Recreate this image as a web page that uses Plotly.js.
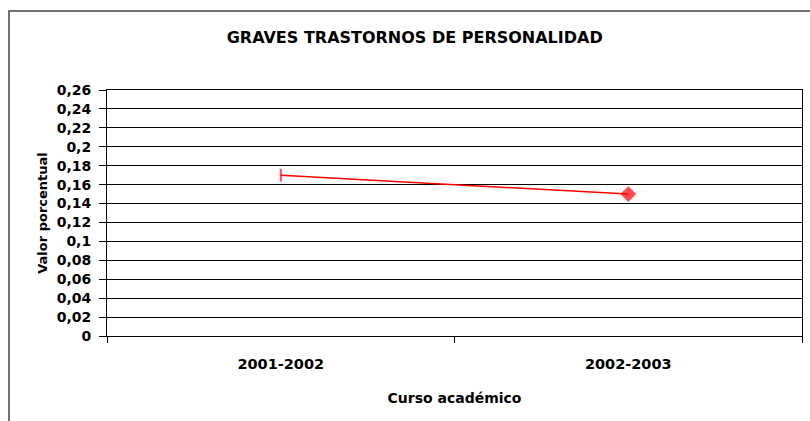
<!DOCTYPE html>
<html>
<head>
<meta charset="utf-8">
<script src="https://cdn.plot.ly/plotly-3.0.1.min.js"></script>
<style>html,body{margin:0;padding:0;background:#fff;}#chart{width:810px;height:421px;}</style>
</head>
<body>
<div id="chart"></div>
<script>
var categories = ['2001-2002', '2002-2003'];
var values = [0.17, 0.15];
var markerSymbols = ['line-ns', 'diamond'];
var yTickVals = [0, 0.02, 0.04, 0.06, 0.08, 0.1, 0.12, 0.14, 0.16, 0.18, 0.2, 0.22, 0.24, 0.26];
var yTickText = ['0', '0,02', '0,04', '0,06', '0,08', '0,1', '0,12', '0,14', '0,16', '0,18', '0,2', '0,22', '0,24', '0,26'];
var titleText = 'GRAVES TRASTORNOS DE PERSONALIDAD';
var xTitle = 'Curso académico';
var yTitle = 'Valor porcentual';

var fontFam = 'DejaVu Sans, Liberation Sans, Arial, sans-serif';

var trace = {
  type: 'scatter',
  mode: 'lines+markers',
  x: categories,
  y: values,
  line: {color: '#FF0000', width: 1.5},
  marker: {
    symbol: markerSymbols,
    size: [9, 10],
    color: '#FF0000',
    line: {color: '#FF0000', width: 2}
  },
  hoverinfo: 'x+y'
};

var layout = {
  width: 810,
  height: 421,
  margin: {l: 107, r: 8, t: 90, b: 85},
  paper_bgcolor: '#FFFFFF',
  plot_bgcolor: '#FFFFFF',
  showlegend: false,
  font: {family: fontFam, size: 14, color: '#000', weight: 'bold'},
  title: {
    text: titleText,
    font: {family: fontFam, size: 16, color: '#000', weight: 'bold'},
    x: 0.512, xref: 'container', xanchor: 'center',
    y: 1 - 37 / 421, yref: 'container', yanchor: 'middle'
  },
  xaxis: {
    type: 'category',
    range: [-0.5, 1.5],
    tickson: 'boundaries',
    ticks: 'outside',
    ticklen: 6,
    tickcolor: '#000',
    tickwidth: 1,
    showgrid: false,
    showline: true,
    linecolor: '#000',
    linewidth: 1,
    mirror: true,
    zeroline: false,
    ticklabelstandoff: 15,
    tickfont: {family: fontFam, size: 14.5, color: '#000', weight: 'bold'},
    title: {text: xTitle, standoff: 21, font: {family: fontFam, size: 14, color: '#000', weight: 'bold'}},
    fixedrange: true
  },
  yaxis: {
    range: [0, 0.26],
    tickmode: 'array',
    tickvals: yTickVals,
    ticktext: yTickText,
    ticks: 'outside',
    ticklen: 7,
    tickcolor: '#000',
    tickwidth: 1,
    showgrid: true,
    gridcolor: '#000',
    gridwidth: 1,
    showline: true,
    linecolor: '#000',
    linewidth: 1,
    mirror: true,
    zeroline: false,
    ticklabelstandoff: 5,
    tickfont: {family: fontFam, size: 14, color: '#000', weight: 'bold'},
    title: {text: yTitle, standoff: 6, font: {family: fontFam, size: 13, color: '#000', weight: 'bold'}},
    fixedrange: true
  },
  shapes: [{
    type: 'rect',
    xref: 'paper', yref: 'paper',
    x0: (9 - 107) / 695, x1: (830 - 107) / 695,
    y0: (336 - 440) / 246, y1: (336 - 11) / 246,
    line: {color: '#444', width: 1.5},
    fillcolor: 'rgba(0,0,0,0)',
    layer: 'below'
  }]
};

Plotly.newPlot('chart', [trace], layout, {displayModeBar: false, staticPlot: true});
</script>
</body>
</html>
